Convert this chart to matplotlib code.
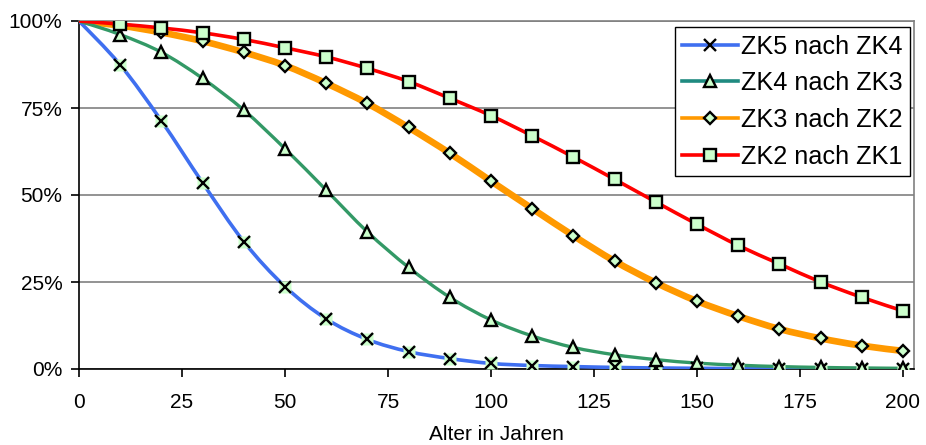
import matplotlib
matplotlib.use("Agg")
import matplotlib.pyplot as plt
from matplotlib.ticker import FuncFormatter
from matplotlib.path import Path
from matplotlib.patches import PathPatch
from matplotlib.lines import Line2D

plt.rcParams['font.family'] = ['Liberation Sans', 'DejaVu Sans']

age = [0, 10, 20, 30, 40, 50, 60, 70, 80, 90, 100, 110, 120, 130, 140, 150, 160, 170, 180, 190, 200]

zk5_zk4 = [100, 87.4, 71.3, 53.5, 36.6, 23.7, 14.4, 8.5, 5.0, 3.0, 1.6, 1.0, 0.7, 0.45, 0.3, 0.2, 0.12, 0.08, 0.05, 0.03, 0.02]
zk4_zk3 = [100, 96.1, 91.0, 83.5, 74.4, 63.3, 51.4, 39.4, 29.2, 20.6, 14.1, 9.5, 6.2, 4.1, 2.7, 1.7, 1.1, 0.7, 0.45, 0.3, 0.2]
zk3_zk2 = [100, 98.7, 96.7, 94.2, 91.0, 87.2, 82.1, 76.3, 69.4, 62.0, 54.0, 46.1, 38.3, 31.0, 24.8, 19.5, 15.2, 11.5, 8.8, 6.7, 5.2]
zk2_zk1 = [100, 99.1, 98.0, 96.6, 94.7, 92.3, 89.7, 86.4, 82.6, 77.8, 72.8, 67.0, 60.9, 54.5, 48.0, 41.6, 35.5, 30.2, 25.0, 20.6, 16.7]

labels = ["ZK5 nach ZK4", "ZK4 nach ZK3", "ZK3 nach ZK2", "ZK2 nach ZK1"]
xticks = [0, 25, 50, 75, 100, 125, 150, 175, 200]
yticks = [0, 25, 50, 75, 100]

W, H = 926, 445
fig = plt.figure(figsize=(W / 100, H / 100), dpi=100)
ax = fig.add_axes([79 / W, (H - 369) / H, (914 - 79) / W, (369 - 21) / H])

fill = '#CCFFCC'
mk = 8.0
mew = 1.7


def smooth_line(ax, xs, ys, color, lw, z):
    """Draw a smoothed (Bezier) line through the data points, like a spreadsheet 'smoothed line'."""
    n = len(xs)
    verts = [(xs[0], ys[0])]
    codes = [Path.MOVETO]
    for i in range(n - 1):
        x0, y0 = xs[max(i - 1, 0)], ys[max(i - 1, 0)]
        x1, y1 = xs[i], ys[i]
        x2, y2 = xs[i + 1], ys[i + 1]
        x3, y3 = xs[min(i + 2, n - 1)], ys[min(i + 2, n - 1)]
        c1 = (x1 + (x2 - x0) / 6.0, y1 + (y2 - y0) / 6.0)
        c2 = (x2 - (x3 - x1) / 6.0, y2 - (y3 - y1) / 6.0)
        verts += [c1, c2, (x2, y2)]
        codes += [Path.CURVE4, Path.CURVE4, Path.CURVE4]
    patch = PathPatch(Path(verts, codes), facecolor='none', edgecolor=color, lw=lw,
                      zorder=z, capstyle='round', joinstyle='round')
    ax.add_patch(patch)


smooth_line(ax, age, zk5_zk4, '#3F6FF0', 2.6, 3)
ax.plot(age[1:], zk5_zk4[1:], ls='none', marker='s', ms=mk, mfc=fill, mec='none', zorder=4)
ax.plot(age[1:], zk5_zk4[1:], ls='none', marker='x', ms=mk + 0.5, mec='black', mew=mew, zorder=5)

smooth_line(ax, age, zk4_zk3, '#339966', 2.4, 3)
ax.plot(age[1:], zk4_zk3[1:], ls='none', marker='^', ms=mk, mfc=fill, mec='black', mew=mew, zorder=5)

smooth_line(ax, age, zk3_zk2, '#FF9900', 4.8, 2)
ax.plot(age[1:], zk3_zk2[1:], ls='none', marker='D', ms=mk - 1.5, mfc=fill, mec='black', mew=mew, zorder=5)

smooth_line(ax, age, zk2_zk1, '#FF0000', 2.6, 3)
ax.plot(age[1:], zk2_zk1[1:], ls='none', marker='s', ms=mk, mfc=fill, mec='black', mew=mew, zorder=5)

# legend proxies
h1 = Line2D([], [], color='#3F6FF0', lw=2.6, marker='x', ms=mk, mec='black', mew=mew)
h2 = Line2D([], [], color='#1F8A80', lw=2.6, marker='^', ms=mk, mfc=fill, mec='black', mew=mew)
h3 = Line2D([], [], color='#FF9900', lw=2.6, marker='D', ms=mk - 1.5, mfc=fill, mec='black', mew=mew)
h4 = Line2D([], [], color='#FF0000', lw=2.6, marker='s', ms=mk, mfc=fill, mec='black', mew=mew)
leg = fig.legend([h1, h2, h3, h4], labels, loc='upper right',
                 bbox_to_anchor=(910 / W, 1 - 27 / H), bbox_transform=fig.transFigure,
                 fontsize=18.2, frameon=True, fancybox=False, shadow=False,
                 edgecolor='black', framealpha=1, borderaxespad=0, borderpad=0.3,
                 handlelength=2.2, handletextpad=0.12, labelspacing=0.5)
leg.get_frame().set_linewidth(1.0)

ax.set_xlim(0, 200 * (914 - 79) / (903 - 79))
ax.set_ylim(0, 100)
ax.set_xticks(xticks)
ax.set_yticks(yticks)
ax.yaxis.set_major_formatter(FuncFormatter(lambda v, p: f"{int(v)}%"))
ax.grid(axis='y', color='#808080', lw=1.2, zorder=1)
ax.set_axisbelow(True)
for s in ['top', 'right']:
    ax.spines[s].set_color('#808080')
    ax.spines[s].set_linewidth(1.2)
for s in ['left', 'bottom']:
    ax.spines[s].set_color('black')
    ax.spines[s].set_linewidth(1.2)
ax.tick_params(axis='both', direction='out', length=6, width=1.2, labelsize=15, colors='black')
ax.tick_params(axis='x', pad=11)
ax.tick_params(axis='y', pad=6)
ax.set_xlabel("Alter in Jahren", fontsize=15, labelpad=10)

fig.savefig("out.png", dpi=100)
